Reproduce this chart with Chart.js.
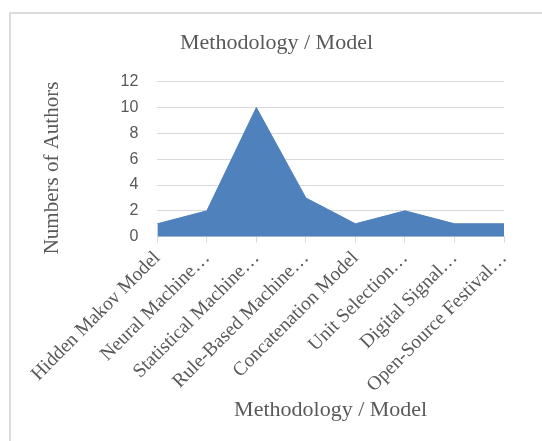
<!DOCTYPE html>
<html>
<head>
<meta charset="utf-8">
<script src="https://cdn.jsdelivr.net/npm/chart.js@4/dist/chart.umd.min.js"></script>
<style>
  html, body { margin: 0; padding: 0; background: #ffffff; overflow: hidden; }
  #wrap { position: relative; width: 542px; height: 441px; overflow: hidden; }
  #frame { position: absolute; left: 9px; top: 12px; width: 600px; height: 500px;
           border: 2px solid #dcdcdc; box-sizing: border-box; }
  canvas { position: absolute; left: 0; top: 0; }
</style>
</head>
<body>
<div id="wrap">
  <div id="frame"></div>
  <canvas id="c" width="542" height="441"></canvas>
</div>
<script>
const categories = [
  "Hidden Makov Model",
  "Neural Machine…",
  "Statistical Machine…",
  "Rule-Based Machine…",
  "Concatenation Model",
  "Unit Selection…",
  "Digital Signal…",
  "Open-Source Festival…"
];
const authors = [1, 2, 10, 3, 1, 2, 1, 1];
const yMin = 0, yMax = 12, yStep = 2;
const chartTitle = "Methodology / Model";
const xTitle = "Methodology / Model";
const yTitle = "Numbers of Authors";

const serif = "'Liberation Serif', 'Times New Roman', serif";
const sans = "'Liberation Sans', Arial, sans-serif";
const textGray = "#595959";
const gridGray = "#d9d9d9";

new Chart(document.getElementById('c'), {
  type: 'line',
  data: {
    labels: categories,
    datasets: [{
      data: authors,
      fill: 'origin',
      backgroundColor: '#4f81bd',
      borderColor: '#4f81bd',
      borderWidth: 1,
      pointRadius: 0,
      tension: 0
    }]
  },
  options: {
    responsive: false,
    devicePixelRatio: 1,
    animation: false,
    layout: { padding: { left: 49, right: 38, top: 0, bottom: 10 } },
    plugins: {
      legend: { display: false },
      tooltip: { enabled: false },
      title: {
        display: true,
        text: chartTitle,
        color: textGray,
        font: { family: serif, size: 22, weight: 'normal' },
        padding: { top: 30.4, bottom: 24.9 }
      }
    },
    scales: {
      x: {
        offset: false,
        grid: { display: true, drawOnChartArea: false, drawTicks: true, tickLength: 6, color: gridGray },
        border: { display: true, color: gridGray },
        ticks: {
          autoSkip: false,
          maxRotation: 45,
          minRotation: 45,
          padding: 4,
          color: textGray,
          font: { family: serif, size: 19.5 }
        },
        title: {
          display: true,
          text: xTitle,
          color: textGray,
          font: { family: serif, size: 22, weight: 'normal' },
          padding: { top: 0, bottom: 7.8 }
        },
        afterFit: (s) => { s.height = 194.3; }
      },
      y: {
        min: yMin,
        max: yMax,
        ticks: {
          stepSize: yStep,
          padding: 19,
          color: textGray,
          font: { family: sans, size: 16 }
        },
        grid: { color: gridGray, drawTicks: false, lineWidth: 1 },
        border: { display: false },
        title: {
          display: true,
          text: yTitle,
          align: 'end',
          color: textGray,
          font: { family: serif, size: 21, weight: 'normal' },
          padding: { top: -9.4, bottom: 0 }
        },
        afterFit: (s) => { s.width = 157.3 - 49; }
      }
    }
  }
});
</script>
</body>
</html>
